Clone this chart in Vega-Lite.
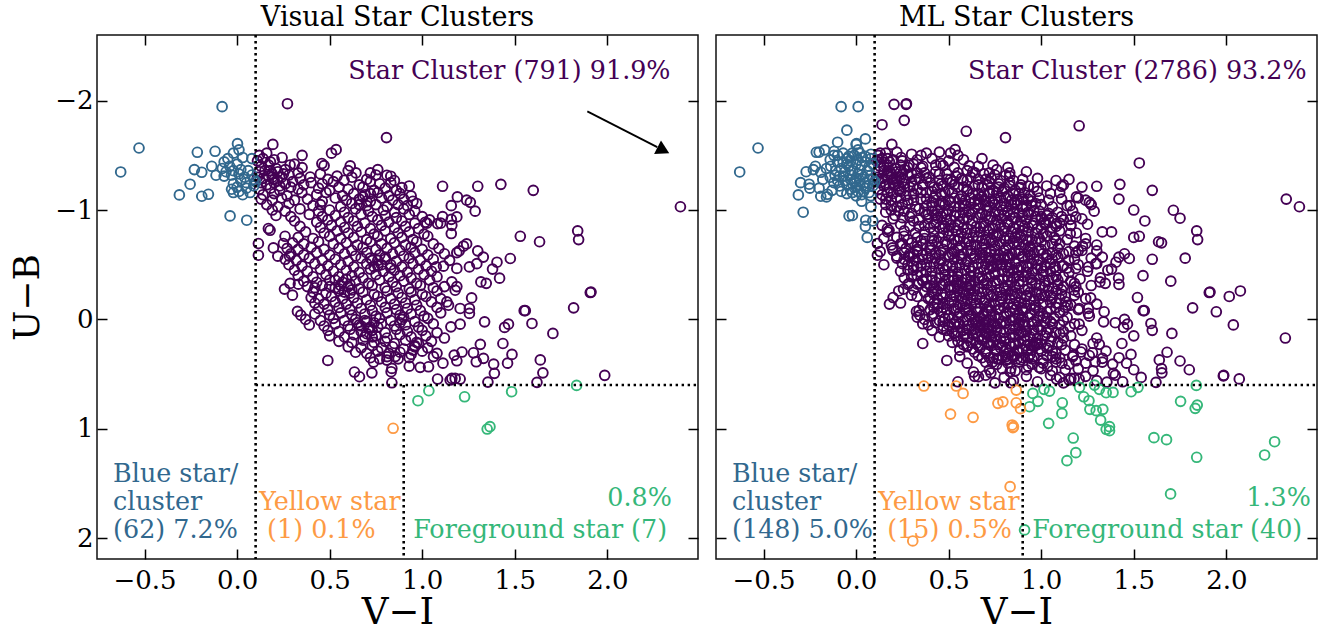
{"$schema":"https://vega.github.io/schema/vega-lite/v6.json","padding":{"left":8,"top":2,"right":0,"bottom":0},"background":"white","spacing":13,
"config":{"view":{"stroke":"#111","strokeWidth":1.5},"font":"DejaVu Serif","title":{"font":"DejaVu Serif","fontSize":27,"fontWeight":"normal","color":"#000","offset":2},"axis":{"grid":false,"domain":false,"labelFont":"DejaVu Serif","titleFont":"DejaVu Serif","titleFontWeight":"normal","labelColor":"#000","titleColor":"#000","tickColor":"#000","tickWidth":1.5}},
"datasets":{
"pv":[{"x":0.272,"y":-1.972},{"x":0.807,"y":-1.662},{"x":0.193,"y":-1.6},{"x":0.351,"y":-1.5},{"x":0.535,"y":-1.552},{"x":0.51,"y":-1.52},{"x":0.458,"y":-1.425},{"x":0.47,"y":-1.406},{"x":0.611,"y":-1.403},{"x":0.642,"y":-1.339},{"x":0.243,"y":-1.48},{"x":0.286,"y":-1.412},{"x":0.351,"y":-1.388},{"x":0.395,"y":-1.302},{"x":0.809,"y":-1.318},{"x":0.83,"y":-1.309},{"x":0.89,"y":-1.205},{"x":0.578,"y":-1.272},{"x":0.115,"y":-0.694},{"x":0.115,"y":-0.587},{"x":0.169,"y":-0.831},{"x":0.178,"y":-0.815},{"x":0.259,"y":-0.76},{"x":0.25,"y":-0.694},{"x":0.196,"y":-0.654},{"x":0.22,"y":-0.578},{"x":0.283,"y":-0.578},{"x":0.256,"y":-0.277},{"x":0.286,"y":-0.329},{"x":0.299,"y":-0.222},{"x":0.331,"y":-0.322},{"x":0.326,"y":-0.073},{"x":0.344,"y":-0.039},
{"x":1.11,"y":-1.217},{"x":1.3,"y":-1.217},{"x":1.425,"y":-1.235},{"x":1.6,"y":-1.18},{"x":1.19,"y":-1.12},{"x":1.24,"y":-1.09},{"x":1.26,"y":-1.07},{"x":1.157,"y":-1.04},{"x":1.286,"y":-0.99},{"x":1.11,"y":-0.94},{"x":1.187,"y":-0.937},{"x":1.157,"y":-0.915},{"x":1.16,"y":-0.86},{"x":1.157,"y":-0.785},{"x":1.016,"y":-0.888},{"x":1.025,"y":-0.88},{"x":1.083,"y":-0.876},{"x":1.1,"y":-0.88},{"x":1.53,"y":-0.76},{"x":1.634,"y":-0.71},{"x":1.84,"y":-0.81},{"x":1.845,"y":-0.73},{"x":2.395,"y":-1.03},{"x":1.24,"y":-0.69},{"x":1.223,"y":-0.67},{"x":1.2,"y":-0.627},{"x":1.187,"y":-0.61},{"x":1.3,"y":-0.627},{"x":1.33,"y":-0.57},{"x":1.295,"y":-0.51},{"x":1.255,"y":-0.48},{"x":1.476,"y":-0.557},{"x":1.404,"y":-0.523},{"x":1.38,"y":-0.46},{"x":1.418,"y":-0.377},{"x":1.187,"y":-0.466},{"x":1.148,"y":-0.54},{"x":1.115,"y":-0.487},{"x":1.076,"y":-0.48},{"x":1.317,"y":-0.343},{"x":1.346,"y":-0.33},{"x":1.16,"y":-0.343},{"x":1.187,"y":-0.3},{"x":1.178,"y":-0.267},{"x":1.908,"y":-0.246},{"x":1.912,"y":-0.25},{"x":1.818,"y":-0.106},{"x":1.551,"y":-0.08},{"x":1.557,"y":-0.08},{"x":1.593,"y":0.037},{"x":1.466,"y":0.043},{"x":1.445,"y":0.073},{"x":1.706,"y":0.128},{"x":1.267,"y":-0.197},{"x":1.255,"y":-0.1},{"x":1.255,"y":-0.055},{"x":1.205,"y":-0.1},{"x":1.142,"y":-0.13},{"x":1.133,"y":-0.16},{"x":1.337,"y":0.022},{"x":1.205,"y":0.043},{"x":1.155,"y":0.068},{"x":1.436,"y":0.22},{"x":1.314,"y":0.228},{"x":1.485,"y":0.32},{"x":1.638,"y":0.37},{"x":1.652,"y":0.488},{"x":1.986,"y":0.511},{"x":1.62,"y":0.575},{"x":1.461,"y":0.4},{"x":1.386,"y":0.408},{"x":1.39,"y":0.493},{"x":1.355,"y":0.573},{"x":1.331,"y":0.356},{"x":1.292,"y":0.387},{"x":1.277,"y":0.305},{"x":1.215,"y":0.298},{"x":1.173,"y":0.326},{"x":1.187,"y":0.378},{"x":1.083,"y":0.545},{"x":1.151,"y":0.554},{"x":1.16,"y":0.539},{"x":1.178,"y":0.539},{"x":1.205,"y":0.545},{"x":0.836,"y":0.579},{"x":0.49,"y":0.375},{"x":0.634,"y":0.481},{"x":0.661,"y":0.524},{"x":0.728,"y":0.488},{"x":0.737,"y":0.39},{"x":0.836,"y":0.448},{"x":0.832,"y":0.478},{"x":0.809,"y":0.372},{"x":0.854,"y":0.34},{"x":0.93,"y":0.427},{"x":0.989,"y":0.438},{"x":1.034,"y":0.433},{"x":1.112,"y":0.4},{"x":1.061,"y":0.34},
{"x":0.12,"y":-1.5},{"x":0.16,"y":-1.52},{"x":0.11,"y":-1.45},{"x":0.14,"y":-1.47},{"x":0.18,"y":-1.44},{"x":0.2,"y":-1.46},{"x":0.13,"y":-1.4},{"x":0.17,"y":-1.41},{"x":0.21,"y":-1.38},{"x":0.31,"y":-1.42},{"x":0.12,"y":-1.35},{"x":0.15,"y":-1.36},{"x":0.19,"y":-1.33},{"x":0.22,"y":-1.35},{"x":0.26,"y":-1.37},{"x":0.33,"y":-1.34},{"x":0.45,"y":-1.33},{"x":0.6,"y":-1.36},{"x":0.72,"y":-1.34},{"x":0.76,"y":-1.37},{"x":0.11,"y":-1.3},{"x":0.14,"y":-1.29},{"x":0.17,"y":-1.31},{"x":0.2,"y":-1.28},{"x":0.24,"y":-1.3},{"x":0.28,"y":-1.32},{"x":0.34,"y":-1.29},{"x":0.49,"y":-1.28},{"x":0.54,"y":-1.31},{"x":0.62,"y":-1.3},{"x":0.7,"y":-1.28},{"x":0.75,"y":-1.32},{"x":0.85,"y":-1.27},{"x":0.13,"y":-1.25},{"x":0.16,"y":-1.23},{"x":0.2,"y":-1.25},{"x":0.26,"y":-1.24},{"x":0.3,"y":-1.26},{"x":0.36,"y":-1.23},{"x":0.4,"y":-1.25},{"x":0.46,"y":-1.24},{"x":0.52,"y":-1.26},{"x":0.66,"y":-1.23},{"x":0.72,"y":-1.26},{"x":0.77,"y":-1.24},{"x":0.83,"y":-1.25},{"x":0.93,"y":-1.22},{"x":0.12,"y":-1.19},{"x":0.18,"y":-1.2},{"x":0.23,"y":-1.18},{"x":0.29,"y":-1.21},{"x":0.33,"y":-1.19},{"x":0.44,"y":-1.2},{"x":0.5,"y":-1.18},{"x":0.55,"y":-1.21},{"x":0.6,"y":-1.19},{"x":0.68,"y":-1.21},{"x":0.74,"y":-1.18},{"x":0.8,"y":-1.2},{"x":0.86,"y":-1.18},{"x":0.14,"y":-1.14},{"x":0.2,"y":-1.15},{"x":0.27,"y":-1.13},{"x":0.35,"y":-1.16},{"x":0.43,"y":-1.14},{"x":0.48,"y":-1.16},{"x":0.57,"y":-1.13},{"x":0.63,"y":-1.15},{"x":0.69,"y":-1.14},{"x":0.76,"y":-1.16},{"x":0.82,"y":-1.13},{"x":0.88,"y":-1.15},{"x":0.94,"y":-1.13},{"x":0.13,"y":-1.1},{"x":0.19,"y":-1.09},{"x":0.24,"y":-1.11},{"x":0.31,"y":-1.09},{"x":0.38,"y":-1.1},{"x":0.46,"y":-1.08},{"x":0.53,"y":-1.11},{"x":0.59,"y":-1.09},{"x":0.66,"y":-1.1},{"x":0.72,"y":-1.08},{"x":0.78,"y":-1.11},{"x":0.84,"y":-1.09},{"x":0.9,"y":-1.1},{"x":0.95,"y":-1.08},{"x":0.16,"y":-1.05},{"x":0.22,"y":-1.03},{"x":0.28,"y":-1.06},{"x":0.41,"y":-1.04},{"x":0.45,"y":-1.05},{"x":0.56,"y":-1.03},{"x":0.62,"y":-1.06},{"x":0.7,"y":-1.04},{"x":0.75,"y":-1.05},{"x":0.81,"y":-1.03},{"x":0.87,"y":-1.05},{"x":0.92,"y":-1.04},{"x":0.97,"y":-1.06},{"x":0.19,"y":-1},{"x":0.26,"y":-0.99},{"x":0.34,"y":-1.01},{"x":0.44,"y":-0.99},{"x":0.5,"y":-1},{"x":0.58,"y":-0.98},{"x":0.64,"y":-1.01},{"x":0.71,"y":-0.99},{"x":0.79,"y":-1},{"x":0.85,"y":-0.98},{"x":0.9,"y":-1.01},{"x":0.96,"y":-0.99},{"x":0.21,"y":-0.95},{"x":0.29,"y":-0.94},{"x":0.39,"y":-0.96},{"x":0.46,"y":-0.94},{"x":0.53,"y":-0.95},{"x":0.6,"y":-0.93},{"x":0.67,"y":-0.96},{"x":0.73,"y":-0.94},{"x":0.8,"y":-0.95},{"x":0.86,"y":-0.93},{"x":0.93,"y":-0.96},{"x":1,"y":-0.94},{"x":0.31,"y":-0.9},{"x":0.43,"y":-0.89},{"x":0.49,"y":-0.91},{"x":0.56,"y":-0.89},{"x":0.63,"y":-0.9},{"x":0.69,"y":-0.88},{"x":0.76,"y":-0.91},{"x":0.82,"y":-0.89},{"x":0.89,"y":-0.9},{"x":0.96,"y":-0.88},{"x":1.04,"y":-0.91},{"x":0.34,"y":-0.85},{"x":0.45,"y":-0.84},{"x":0.51,"y":-0.86},{"x":0.58,"y":-0.84},{"x":0.65,"y":-0.85},{"x":0.72,"y":-0.83},{"x":0.78,"y":-0.86},{"x":0.85,"y":-0.84},{"x":0.91,"y":-0.85},{"x":0.98,"y":-0.83},{"x":0.37,"y":-0.8},{"x":0.47,"y":-0.79},{"x":0.54,"y":-0.81},{"x":0.6,"y":-0.79},{"x":0.67,"y":-0.8},{"x":0.74,"y":-0.78},{"x":0.8,"y":-0.81},{"x":0.87,"y":-0.79},{"x":0.93,"y":-0.8},{"x":1.01,"y":-0.78},{"x":0.33,"y":-0.75},{"x":0.41,"y":-0.74},{"x":0.5,"y":-0.76},{"x":0.56,"y":-0.74},{"x":0.63,"y":-0.75},{"x":0.7,"y":-0.73},{"x":0.76,"y":-0.76},{"x":0.83,"y":-0.74},{"x":0.89,"y":-0.75},{"x":0.95,"y":-0.73},{"x":1.03,"y":-0.76},{"x":0.3,"y":-0.7},{"x":0.36,"y":-0.69},{"x":0.44,"y":-0.71},{"x":0.52,"y":-0.69},{"x":0.59,"y":-0.7},{"x":0.65,"y":-0.68},{"x":0.72,"y":-0.71},{"x":0.78,"y":-0.69},{"x":0.85,"y":-0.7},{"x":0.91,"y":-0.68},{"x":0.97,"y":-0.71},{"x":1.06,"y":-0.69},{"x":0.27,"y":-0.65},{"x":0.33,"y":-0.64},{"x":0.4,"y":-0.66},{"x":0.47,"y":-0.64},{"x":0.55,"y":-0.65},{"x":0.62,"y":-0.63},{"x":0.68,"y":-0.66},{"x":0.75,"y":-0.64},{"x":0.81,"y":-0.65},{"x":0.88,"y":-0.63},{"x":0.94,"y":-0.66},{"x":1,"y":-0.64},{"x":1.09,"y":-0.65},{"x":0.29,"y":-0.6},{"x":0.36,"y":-0.59},{"x":0.43,"y":-0.61},{"x":0.5,"y":-0.59},{"x":0.58,"y":-0.6},{"x":0.64,"y":-0.58},{"x":0.7,"y":-0.61},{"x":0.77,"y":-0.59},{"x":0.84,"y":-0.6},{"x":0.9,"y":-0.58},{"x":0.96,"y":-0.61},{"x":1.03,"y":-0.59},{"x":1.12,"y":-0.6},{"x":0.26,"y":-0.55},{"x":0.32,"y":-0.54},{"x":0.39,"y":-0.56},{"x":0.46,"y":-0.54},{"x":0.53,"y":-0.55},{"x":0.6,"y":-0.53},{"x":0.67,"y":-0.56},{"x":0.73,"y":-0.54},{"x":0.8,"y":-0.55},{"x":0.86,"y":-0.53},{"x":0.93,"y":-0.56},{"x":0.99,"y":-0.54},{"x":1.06,"y":-0.55},{"x":0.28,"y":-0.5},{"x":0.35,"y":-0.49},{"x":0.42,"y":-0.51},{"x":0.49,"y":-0.49},{"x":0.56,"y":-0.5},{"x":0.63,"y":-0.48},{"x":0.7,"y":-0.51},{"x":0.76,"y":-0.49},{"x":0.83,"y":-0.5},{"x":0.89,"y":-0.48},{"x":0.95,"y":-0.51},{"x":1.02,"y":-0.49},{"x":0.31,"y":-0.45},{"x":0.38,"y":-0.44},{"x":0.45,"y":-0.46},{"x":0.52,"y":-0.44},{"x":0.59,"y":-0.45},{"x":0.66,"y":-0.43},{"x":0.72,"y":-0.46},{"x":0.79,"y":-0.44},{"x":0.85,"y":-0.45},{"x":0.92,"y":-0.43},{"x":0.98,"y":-0.46},{"x":1.05,"y":-0.44},{"x":0.33,"y":-0.4},{"x":0.41,"y":-0.39},{"x":0.48,"y":-0.41},{"x":0.55,"y":-0.39},{"x":0.62,"y":-0.4},{"x":0.68,"y":-0.38},{"x":0.75,"y":-0.41},{"x":0.82,"y":-0.39},{"x":0.88,"y":-0.4},{"x":0.94,"y":-0.38},{"x":1.01,"y":-0.41},{"x":1.08,"y":-0.39},{"x":0.36,"y":-0.35},{"x":0.43,"y":-0.34},{"x":0.5,"y":-0.36},{"x":0.57,"y":-0.34},{"x":0.64,"y":-0.35},{"x":0.71,"y":-0.33},{"x":0.77,"y":-0.36},{"x":0.84,"y":-0.34},{"x":0.9,"y":-0.35},{"x":0.97,"y":-0.33},{"x":1.04,"y":-0.36},{"x":0.38,"y":-0.3},{"x":0.42,"y":-0.29},{"x":0.46,"y":-0.31},{"x":0.53,"y":-0.29},{"x":0.6,"y":-0.3},{"x":0.66,"y":-0.28},{"x":0.73,"y":-0.31},{"x":0.8,"y":-0.29},{"x":0.86,"y":-0.3},{"x":0.93,"y":-0.28},{"x":0.99,"y":-0.31},{"x":1.06,"y":-0.29},{"x":1.12,"y":-0.3},{"x":0.41,"y":-0.25},{"x":0.48,"y":-0.24},{"x":0.55,"y":-0.26},{"x":0.61,"y":-0.24},{"x":0.68,"y":-0.25},{"x":0.74,"y":-0.23},{"x":0.81,"y":-0.26},{"x":0.87,"y":-0.24},{"x":0.94,"y":-0.25},{"x":1,"y":-0.23},{"x":1.08,"y":-0.26},{"x":0.4,"y":-0.2},{"x":0.44,"y":-0.19},{"x":0.51,"y":-0.21},{"x":0.57,"y":-0.19},{"x":0.63,"y":-0.2},{"x":0.7,"y":-0.18},{"x":0.76,"y":-0.21},{"x":0.83,"y":-0.19},{"x":0.89,"y":-0.2},{"x":0.96,"y":-0.18},{"x":1.02,"y":-0.21},{"x":1.1,"y":-0.19},{"x":0.42,"y":-0.15},{"x":0.47,"y":-0.14},{"x":0.53,"y":-0.16},{"x":0.59,"y":-0.14},{"x":0.65,"y":-0.15},{"x":0.72,"y":-0.13},{"x":0.78,"y":-0.16},{"x":0.85,"y":-0.14},{"x":0.91,"y":-0.15},{"x":0.97,"y":-0.13},{"x":1.05,"y":-0.16},{"x":0.44,"y":-0.1},{"x":0.49,"y":-0.09},{"x":0.55,"y":-0.11},{"x":0.61,"y":-0.09},{"x":0.67,"y":-0.1},{"x":0.73,"y":-0.08},{"x":0.8,"y":-0.11},{"x":0.86,"y":-0.09},{"x":0.92,"y":-0.1},{"x":0.99,"y":-0.08},{"x":1.08,"y":-0.11},{"x":0.42,"y":-0.05},{"x":0.5,"y":-0.04},{"x":0.56,"y":-0.06},{"x":0.62,"y":-0.04},{"x":0.69,"y":-0.05},{"x":0.75,"y":-0.03},{"x":0.81,"y":-0.06},{"x":0.88,"y":-0.04},{"x":0.94,"y":-0.05},{"x":1.01,"y":-0.03},{"x":1.1,"y":-0.06},{"x":0.37,"y":0},{"x":0.45,"y":0.01},{"x":0.52,"y":-0.01},{"x":0.58,"y":0.01},{"x":0.64,"y":0},{"x":0.7,"y":0.02},{"x":0.77,"y":-0.01},{"x":0.83,"y":0.01},{"x":0.89,"y":0},{"x":0.96,"y":0.02},{"x":1.03,"y":-0.01},{"x":0.39,"y":0.05},{"x":0.47,"y":0.06},{"x":0.53,"y":0.04},{"x":0.6,"y":0.06},{"x":0.66,"y":0.05},{"x":0.72,"y":0.07},{"x":0.78,"y":0.04},{"x":0.85,"y":0.06},{"x":0.91,"y":0.05},{"x":0.98,"y":0.07},{"x":1.06,"y":0.04},{"x":0.49,"y":0.1},{"x":0.55,"y":0.11},{"x":0.61,"y":0.09},{"x":0.67,"y":0.11},{"x":0.73,"y":0.1},{"x":0.8,"y":0.12},{"x":0.86,"y":0.09},{"x":0.92,"y":0.11},{"x":1,"y":0.1},{"x":1.08,"y":0.12},{"x":0.5,"y":0.15},{"x":0.58,"y":0.16},{"x":0.63,"y":0.14},{"x":0.69,"y":0.16},{"x":0.75,"y":0.15},{"x":0.81,"y":0.17},{"x":0.88,"y":0.14},{"x":0.94,"y":0.16},{"x":1.02,"y":0.15},{"x":1.12,"y":0.17},{"x":0.55,"y":0.2},{"x":0.62,"y":0.21},{"x":0.68,"y":0.19},{"x":0.74,"y":0.21},{"x":0.8,"y":0.2},{"x":0.85,"y":0.22},{"x":0.91,"y":0.19},{"x":0.97,"y":0.21},{"x":1.05,"y":0.2},{"x":0.6,"y":0.25},{"x":0.67,"y":0.26},{"x":0.73,"y":0.24},{"x":0.78,"y":0.26},{"x":0.84,"y":0.25},{"x":0.9,"y":0.27},{"x":0.96,"y":0.24},{"x":1.03,"y":0.26},{"x":0.64,"y":0.3},{"x":0.7,"y":0.31},{"x":0.76,"y":0.29},{"x":0.82,"y":0.31},{"x":0.88,"y":0.3},{"x":0.94,"y":0.32},{"x":1,"y":0.29},{"x":1.08,"y":0.31},{"x":0.72,"y":0.35},{"x":0.77,"y":0.36},{"x":0.81,"y":0.34},{"x":0.87,"y":0.36},{"x":0.93,"y":0.35},
{"x":0.53,"y":-0.36},{"x":0.56,"y":-0.31},{"x":0.59,"y":-0.37},{"x":0.61,"y":-0.32},{"x":0.55,"y":-0.28},{"x":0.58,"y":-0.25},{"x":0.62,"y":-0.27},{"x":0.5,"y":-0.3},{"x":0.65,"y":0.03},{"x":0.67,"y":0.06},{"x":0.69,"y":0.01},{"x":0.71,"y":0.08},{"x":0.74,"y":0.03},{"x":0.76,"y":0.07},{"x":0.7,"y":0.13},{"x":0.73,"y":0.16},{"x":0.76,"y":-0.54},{"x":0.78,"y":-0.5},{"x":0.74,"y":-0.48},{"x":0.8,"y":-0.57},{"x":0.72,"y":-0.56},{"x":0.83,"y":-0.47},{"x":0.68,"y":-1.12},{"x":0.7,"y":-1.08},{"x":0.66,"y":-1.05},{"x":0.72,"y":-1.15},{"x":0.19,"y":-1.3},{"x":0.22,"y":-1.27},{"x":0.25,"y":-1.33},{"x":0.18,"y":-1.36},{"x":0.23,"y":-1.22},{"x":0.96,"y":0.25},{"x":0.95,"y":0.28},{"x":0.98,"y":0.22},{"x":0.9,"y":-0.02},{"x":0.88,"y":0.03}],
"pm":[{"x":0.205,"y":-1.966},{"x":0.27,"y":-1.966},{"x":0.14,"y":-1.78},{"x":0.26,"y":-1.82},{"x":0.595,"y":-1.72},{"x":1.205,"y":-1.77},{"x":1.53,"y":-1.43},{"x":2.324,"y":-1.1},{"x":2.319,"y":0.17},{"x":1.778,"y":-0.56},{"x":1.714,"y":-0.998},{"x":1.75,"y":-0.925},{"x":1.984,"y":0.517},{"x":2.07,"y":0.544},{"x":2.076,"y":-0.26},{"x":2.016,"y":-0.21},{"x":1.946,"y":-0.07},{"x":2.038,"y":0.05},{"x":1.56,"y":-0.9},{"x":1.5,"y":-1},{"x":1.42,"y":-1.1},{"x":1.6,"y":-0.55},{"x":1.55,"y":-0.4},{"x":1.65,"y":-0.7},{"x":1.7,"y":-0.35},{"x":1.52,"y":-0.2},{"x":1.6,"y":0.1},{"x":1.68,"y":0.3},{"x":1.75,"y":0.38},{"x":1.8,"y":0.46},{"x":1.65,"y":0.45},{"x":1.5,"y":0.15},{"x":1.45,"y":0},{"x":1.38,"y":-0.8},{"x":1.45,"y":-0.6},{"x":1.5,"y":-0.75},
{"x":0.13,"y":-1.52},{"x":0.22,"y":-1.53},{"x":0.3,"y":-1.51},{"x":0.38,"y":-1.52},{"x":0.45,"y":-1.53},{"x":0.55,"y":-1.5},{"x":0.12,"y":-1.46},{"x":0.17,"y":-1.47},{"x":0.25,"y":-1.45},{"x":0.33,"y":-1.46},{"x":0.41,"y":-1.47},{"x":0.5,"y":-1.45},{"x":0.58,"y":-1.46},{"x":0.68,"y":-1.47},{"x":0.15,"y":-1.4},{"x":0.24,"y":-1.41},{"x":0.28,"y":-1.39},{"x":0.36,"y":-1.4},{"x":0.43,"y":-1.41},{"x":0.53,"y":-1.39},{"x":0.66,"y":-1.4},{"x":0.74,"y":-1.41},{"x":0.82,"y":-1.39},{"x":0.17,"y":-1.34},{"x":0.24,"y":-1.35},{"x":0.3,"y":-1.33},{"x":0.37,"y":-1.34},{"x":0.43,"y":-1.35},{"x":0.49,"y":-1.33},{"x":0.55,"y":-1.34},{"x":0.63,"y":-1.35},{"x":0.69,"y":-1.33},{"x":0.83,"y":-1.34},{"x":0.92,"y":-1.35},{"x":0.12,"y":-1.28},{"x":0.22,"y":-1.29},{"x":0.26,"y":-1.27},{"x":0.32,"y":-1.28},{"x":0.38,"y":-1.29},{"x":0.45,"y":-1.27},{"x":0.51,"y":-1.28},{"x":0.57,"y":-1.29},{"x":0.6,"y":-1.27},{"x":0.66,"y":-1.28},{"x":0.73,"y":-1.29},{"x":0.78,"y":-1.27},{"x":0.9,"y":-1.28},{"x":0.98,"y":-1.29},{"x":1.08,"y":-1.27},{"x":1.15,"y":-1.28},{"x":0.15,"y":-1.22},{"x":0.21,"y":-1.23},{"x":0.26,"y":-1.21},{"x":0.31,"y":-1.22},{"x":0.36,"y":-1.23},{"x":0.42,"y":-1.21},{"x":0.47,"y":-1.22},{"x":0.53,"y":-1.23},{"x":0.58,"y":-1.21},{"x":0.64,"y":-1.22},{"x":0.71,"y":-1.23},{"x":0.77,"y":-1.21},{"x":0.83,"y":-1.22},{"x":0.89,"y":-1.23},{"x":0.96,"y":-1.21},{"x":1.03,"y":-1.22},{"x":1.12,"y":-1.23},{"x":1.22,"y":-1.21},{"x":0.17,"y":-1.16},{"x":0.24,"y":-1.17},{"x":0.31,"y":-1.15},{"x":0.38,"y":-1.16},{"x":0.41,"y":-1.17},{"x":0.46,"y":-1.15},{"x":0.52,"y":-1.16},{"x":0.6,"y":-1.17},{"x":0.66,"y":-1.15},{"x":0.72,"y":-1.16},{"x":0.79,"y":-1.17},{"x":0.85,"y":-1.15},{"x":0.91,"y":-1.16},{"x":0.98,"y":-1.17},{"x":1.05,"y":-1.15},{"x":1.1,"y":-1.16},{"x":0.16,"y":-1.1},{"x":0.22,"y":-1.11},{"x":0.28,"y":-1.09},{"x":0.35,"y":-1.1},{"x":0.42,"y":-1.11},{"x":0.5,"y":-1.09},{"x":0.56,"y":-1.1},{"x":0.62,"y":-1.11},{"x":0.69,"y":-1.09},{"x":0.75,"y":-1.1},{"x":0.81,"y":-1.11},{"x":0.87,"y":-1.09},{"x":0.93,"y":-1.1},{"x":0.99,"y":-1.11},{"x":1.04,"y":-1.09},{"x":1.11,"y":-1.1},{"x":1.2,"y":-1.11},{"x":0.19,"y":-1.04},{"x":0.25,"y":-1.05},{"x":0.32,"y":-1.03},{"x":0.38,"y":-1.04},{"x":0.48,"y":-1.05},{"x":0.53,"y":-1.03},{"x":0.59,"y":-1.04},{"x":0.66,"y":-1.05},{"x":0.72,"y":-1.03},{"x":0.78,"y":-1.04},{"x":0.84,"y":-1.05},{"x":0.9,"y":-1.03},{"x":0.95,"y":-1.04},{"x":1,"y":-1.05},{"x":1.06,"y":-1.03},{"x":1.14,"y":-1.04},{"x":1.27,"y":-1.05},{"x":0.16,"y":-0.98},{"x":0.23,"y":-0.99},{"x":0.3,"y":-0.97},{"x":0.37,"y":-0.98},{"x":0.41,"y":-0.99},{"x":0.47,"y":-0.97},{"x":0.54,"y":-0.98},{"x":0.61,"y":-0.99},{"x":0.68,"y":-0.97},{"x":0.75,"y":-0.98},{"x":0.82,"y":-0.99},{"x":0.88,"y":-0.97},{"x":0.93,"y":-0.98},{"x":0.99,"y":-0.99},{"x":1.04,"y":-0.97},{"x":1.09,"y":-0.98},{"x":1.17,"y":-0.99},{"x":0.2,"y":-0.92},{"x":0.25,"y":-0.93},{"x":0.34,"y":-0.91},{"x":0.39,"y":-0.92},{"x":0.44,"y":-0.93},{"x":0.51,"y":-0.91},{"x":0.58,"y":-0.92},{"x":0.66,"y":-0.93},{"x":0.72,"y":-0.91},{"x":0.79,"y":-0.92},{"x":0.85,"y":-0.93},{"x":0.92,"y":-0.91},{"x":1,"y":-0.92},{"x":1.06,"y":-0.93},{"x":1.12,"y":-0.91},{"x":1.22,"y":-0.92},{"x":0.14,"y":-0.86},{"x":0.24,"y":-0.87},{"x":0.29,"y":-0.85},{"x":0.37,"y":-0.86},{"x":0.42,"y":-0.87},{"x":0.48,"y":-0.85},{"x":0.55,"y":-0.86},{"x":0.62,"y":-0.87},{"x":0.69,"y":-0.85},{"x":0.75,"y":-0.86},{"x":0.82,"y":-0.87},{"x":0.88,"y":-0.85},{"x":0.95,"y":-0.86},{"x":1.02,"y":-0.87},{"x":1.08,"y":-0.85},{"x":1.16,"y":-0.86},{"x":1.25,"y":-0.87},{"x":0.17,"y":-0.8},{"x":0.26,"y":-0.81},{"x":0.32,"y":-0.79},{"x":0.42,"y":-0.8},{"x":0.5,"y":-0.81},{"x":0.57,"y":-0.79},{"x":0.64,"y":-0.8},{"x":0.71,"y":-0.81},{"x":0.77,"y":-0.79},{"x":0.84,"y":-0.8},{"x":0.9,"y":-0.81},{"x":0.97,"y":-0.79},{"x":1.05,"y":-0.8},{"x":1.1,"y":-0.81},{"x":1.19,"y":-0.79},{"x":1.33,"y":-0.8},{"x":0.15,"y":-0.74},{"x":0.22,"y":-0.75},{"x":0.28,"y":-0.73},{"x":0.37,"y":-0.74},{"x":0.45,"y":-0.75},{"x":0.53,"y":-0.73},{"x":0.6,"y":-0.74},{"x":0.66,"y":-0.75},{"x":0.73,"y":-0.73},{"x":0.8,"y":-0.74},{"x":0.86,"y":-0.75},{"x":0.92,"y":-0.73},{"x":0.99,"y":-0.74},{"x":1.07,"y":-0.75},{"x":1.14,"y":-0.73},{"x":1.24,"y":-0.74},{"x":0.19,"y":-0.68},{"x":0.24,"y":-0.69},{"x":0.33,"y":-0.67},{"x":0.41,"y":-0.68},{"x":0.49,"y":-0.69},{"x":0.56,"y":-0.67},{"x":0.62,"y":-0.68},{"x":0.69,"y":-0.69},{"x":0.75,"y":-0.67},{"x":0.82,"y":-0.68},{"x":0.88,"y":-0.69},{"x":0.94,"y":-0.67},{"x":1.02,"y":-0.68},{"x":1.1,"y":-0.69},{"x":1.18,"y":-0.67},{"x":1.3,"y":-0.68},{"x":0.13,"y":-0.62},{"x":0.2,"y":-0.63},{"x":0.26,"y":-0.61},{"x":0.33,"y":-0.62},{"x":0.4,"y":-0.63},{"x":0.46,"y":-0.61},{"x":0.53,"y":-0.62},{"x":0.6,"y":-0.63},{"x":0.67,"y":-0.61},{"x":0.73,"y":-0.62},{"x":0.8,"y":-0.63},{"x":0.86,"y":-0.61},{"x":0.93,"y":-0.62},{"x":0.99,"y":-0.63},{"x":1.06,"y":-0.61},{"x":1.15,"y":-0.62},{"x":1.22,"y":-0.63},{"x":0.22,"y":-0.56},{"x":0.29,"y":-0.57},{"x":0.36,"y":-0.55},{"x":0.43,"y":-0.56},{"x":0.5,"y":-0.57},{"x":0.57,"y":-0.55},{"x":0.64,"y":-0.56},{"x":0.7,"y":-0.57},{"x":0.77,"y":-0.55},{"x":0.83,"y":-0.56},{"x":0.9,"y":-0.57},{"x":0.96,"y":-0.55},{"x":1.03,"y":-0.56},{"x":1.09,"y":-0.57},{"x":1.18,"y":-0.55},{"x":1.27,"y":-0.56},{"x":1.42,"y":-0.57},{"x":0.15,"y":-0.5},{"x":0.25,"y":-0.51},{"x":0.31,"y":-0.49},{"x":0.38,"y":-0.5},{"x":0.45,"y":-0.51},{"x":0.52,"y":-0.49},{"x":0.59,"y":-0.5},{"x":0.66,"y":-0.51},{"x":0.73,"y":-0.49},{"x":0.79,"y":-0.5},{"x":0.86,"y":-0.51},{"x":0.92,"y":-0.49},{"x":0.98,"y":-0.5},{"x":1.05,"y":-0.51},{"x":1.12,"y":-0.49},{"x":1.2,"y":-0.5},{"x":1.3,"y":-0.51},{"x":0.24,"y":-0.44},{"x":0.28,"y":-0.45},{"x":0.35,"y":-0.43},{"x":0.41,"y":-0.44},{"x":0.48,"y":-0.45},{"x":0.55,"y":-0.43},{"x":0.62,"y":-0.44},{"x":0.69,"y":-0.45},{"x":0.75,"y":-0.43},{"x":0.82,"y":-0.44},{"x":0.88,"y":-0.45},{"x":0.95,"y":-0.43},{"x":1.01,"y":-0.44},{"x":1.08,"y":-0.45},{"x":1.15,"y":-0.43},{"x":1.25,"y":-0.44},{"x":1.36,"y":-0.45},{"x":0.26,"y":-0.38},{"x":0.3,"y":-0.39},{"x":0.38,"y":-0.37},{"x":0.45,"y":-0.38},{"x":0.52,"y":-0.39},{"x":0.6,"y":-0.37},{"x":0.66,"y":-0.38},{"x":0.72,"y":-0.39},{"x":0.79,"y":-0.37},{"x":0.85,"y":-0.38},{"x":0.91,"y":-0.39},{"x":0.99,"y":-0.37},{"x":1.06,"y":-0.38},{"x":1.12,"y":-0.39},{"x":1.21,"y":-0.37},{"x":1.32,"y":-0.38},{"x":0.28,"y":-0.32},{"x":0.34,"y":-0.33},{"x":0.4,"y":-0.31},{"x":0.47,"y":-0.32},{"x":0.54,"y":-0.33},{"x":0.62,"y":-0.31},{"x":0.69,"y":-0.32},{"x":0.76,"y":-0.33},{"x":0.82,"y":-0.31},{"x":0.88,"y":-0.32},{"x":0.95,"y":-0.33},{"x":1.02,"y":-0.31},{"x":1.09,"y":-0.32},{"x":1.18,"y":-0.33},{"x":1.27,"y":-0.31},{"x":1.42,"y":-0.32},{"x":0.23,"y":-0.26},{"x":0.31,"y":-0.27},{"x":0.37,"y":-0.25},{"x":0.44,"y":-0.26},{"x":0.51,"y":-0.27},{"x":0.58,"y":-0.25},{"x":0.64,"y":-0.26},{"x":0.71,"y":-0.27},{"x":0.78,"y":-0.25},{"x":0.84,"y":-0.26},{"x":0.91,"y":-0.27},{"x":0.97,"y":-0.25},{"x":1.04,"y":-0.26},{"x":1.11,"y":-0.27},{"x":1.2,"y":-0.25},{"x":0.2,"y":-0.2},{"x":0.33,"y":-0.21},{"x":0.39,"y":-0.19},{"x":0.47,"y":-0.2},{"x":0.54,"y":-0.21},{"x":0.6,"y":-0.19},{"x":0.67,"y":-0.2},{"x":0.73,"y":-0.21},{"x":0.79,"y":-0.19},{"x":0.86,"y":-0.2},{"x":0.92,"y":-0.21},{"x":0.99,"y":-0.19},{"x":1.06,"y":-0.2},{"x":1.13,"y":-0.21},{"x":1.24,"y":-0.19},{"x":0.18,"y":-0.14},{"x":0.24,"y":-0.15},{"x":0.36,"y":-0.13},{"x":0.44,"y":-0.14},{"x":0.5,"y":-0.15},{"x":0.56,"y":-0.13},{"x":0.62,"y":-0.14},{"x":0.69,"y":-0.15},{"x":0.75,"y":-0.13},{"x":0.82,"y":-0.14},{"x":0.88,"y":-0.15},{"x":0.94,"y":-0.13},{"x":1.01,"y":-0.14},{"x":1.08,"y":-0.15},{"x":1.16,"y":-0.13},{"x":1.3,"y":-0.14},{"x":0.34,"y":-0.08},{"x":0.4,"y":-0.09},{"x":0.46,"y":-0.07},{"x":0.53,"y":-0.08},{"x":0.59,"y":-0.09},{"x":0.65,"y":-0.07},{"x":0.71,"y":-0.08},{"x":0.77,"y":-0.09},{"x":0.83,"y":-0.07},{"x":0.9,"y":-0.08},{"x":0.96,"y":-0.09},{"x":1.03,"y":-0.07},{"x":1.12,"y":-0.08},{"x":1.2,"y":-0.09},{"x":1.34,"y":-0.07},{"x":0.33,"y":-0.02},{"x":0.41,"y":-0.03},{"x":0.48,"y":-0.01},{"x":0.55,"y":-0.02},{"x":0.61,"y":-0.03},{"x":0.67,"y":-0.01},{"x":0.73,"y":-0.02},{"x":0.8,"y":-0.03},{"x":0.86,"y":-0.01},{"x":0.93,"y":-0.02},{"x":0.99,"y":-0.03},{"x":1.07,"y":-0.01},{"x":1.14,"y":-0.02},{"x":1.26,"y":-0.03},{"x":0.36,"y":0.04},{"x":0.43,"y":0.03},{"x":0.5,"y":0.05},{"x":0.56,"y":0.04},{"x":0.63,"y":0.03},{"x":0.69,"y":0.05},{"x":0.75,"y":0.04},{"x":0.81,"y":0.03},{"x":0.88,"y":0.05},{"x":0.95,"y":0.04},{"x":1.02,"y":0.03},{"x":1.1,"y":0.05},{"x":1.18,"y":0.04},{"x":1.4,"y":0.03},{"x":0.41,"y":0.1},{"x":0.47,"y":0.09},{"x":0.52,"y":0.11},{"x":0.58,"y":0.1},{"x":0.64,"y":0.09},{"x":0.7,"y":0.11},{"x":0.76,"y":0.1},{"x":0.83,"y":0.09},{"x":0.89,"y":0.11},{"x":0.96,"y":0.1},{"x":1.04,"y":0.09},{"x":1.12,"y":0.11},{"x":1.22,"y":0.1},{"x":0.45,"y":0.16},{"x":0.54,"y":0.15},{"x":0.6,"y":0.17},{"x":0.66,"y":0.16},{"x":0.72,"y":0.15},{"x":0.78,"y":0.17},{"x":0.85,"y":0.16},{"x":0.91,"y":0.15},{"x":0.98,"y":0.17},{"x":1.06,"y":0.16},{"x":1.16,"y":0.15},{"x":1.3,"y":0.17},{"x":0.36,"y":0.22},{"x":0.52,"y":0.21},{"x":0.58,"y":0.23},{"x":0.65,"y":0.22},{"x":0.71,"y":0.21},{"x":0.77,"y":0.23},{"x":0.83,"y":0.22},{"x":0.88,"y":0.21},{"x":0.94,"y":0.23},{"x":1,"y":0.22},{"x":1.09,"y":0.21},{"x":1.18,"y":0.23},{"x":1.28,"y":0.22},{"x":0.56,"y":0.28},{"x":0.63,"y":0.27},{"x":0.7,"y":0.29},{"x":0.75,"y":0.28},{"x":0.81,"y":0.27},{"x":0.87,"y":0.29},{"x":0.93,"y":0.28},{"x":0.99,"y":0.27},{"x":1.06,"y":0.29},{"x":1.13,"y":0.28},{"x":1.22,"y":0.27},{"x":1.35,"y":0.29},{"x":0.56,"y":0.34},{"x":0.66,"y":0.33},{"x":0.74,"y":0.35},{"x":0.79,"y":0.34},{"x":0.84,"y":0.33},{"x":0.9,"y":0.35},{"x":0.96,"y":0.34},{"x":1.03,"y":0.33},{"x":1.1,"y":0.35},{"x":1.17,"y":0.34},{"x":1.26,"y":0.33},{"x":1.42,"y":0.35},{"x":0.6,"y":0.4},{"x":0.7,"y":0.39},{"x":0.76,"y":0.41},{"x":0.82,"y":0.4},{"x":0.88,"y":0.39},{"x":0.95,"y":0.41},{"x":1.01,"y":0.4},{"x":1.08,"y":0.39},{"x":1.15,"y":0.41},{"x":1.24,"y":0.4},{"x":1.33,"y":0.39},{"x":0.72,"y":0.46},{"x":0.79,"y":0.45},{"x":0.86,"y":0.47},{"x":0.92,"y":0.46},{"x":1,"y":0.45},{"x":1.06,"y":0.47},{"x":1.13,"y":0.46},{"x":1.2,"y":0.45},{"x":1.28,"y":0.47},{"x":1.5,"y":0.46},{"x":0.64,"y":0.52},{"x":0.7,"y":0.51},{"x":0.8,"y":0.53},{"x":0.92,"y":0.52},{"x":1.05,"y":0.51},{"x":1.1,"y":0.53},{"x":1.24,"y":0.52},{"x":1.4,"y":0.51},{"x":1.54,"y":0.53},{"x":0.55,"y":0.57},{"x":0.75,"y":0.58},{"x":0.85,"y":0.56},{"x":0.98,"y":0.57},{"x":1.12,"y":0.58},{"x":1.3,"y":0.56},{"x":1.44,"y":0.57},
{"x":0.41,"y":-1.07},{"x":0.47,"y":-1.06},{"x":0.51,"y":-1.07},{"x":0.58,"y":-1.06},{"x":0.64,"y":-1.08},{"x":0.74,"y":-1.07},{"x":0.8,"y":-1.06},{"x":0.86,"y":-1.07},{"x":0.38,"y":-0.96},{"x":0.43,"y":-0.95},{"x":0.49,"y":-0.96},{"x":0.56,"y":-0.95},{"x":0.62,"y":-0.96},{"x":0.7,"y":-0.95},{"x":0.77,"y":-0.96},{"x":0.83,"y":-0.95},{"x":0.9,"y":-0.95},{"x":0.97,"y":-0.94},{"x":1.03,"y":-0.95},{"x":0.4,"y":-0.84},{"x":0.47,"y":-0.83},{"x":0.53,"y":-0.84},{"x":0.6,"y":-0.83},{"x":0.67,"y":-0.84},{"x":0.74,"y":-0.83},{"x":0.8,"y":-0.84},{"x":0.86,"y":-0.83},{"x":0.93,"y":-0.84},{"x":1,"y":-0.83},{"x":1.06,"y":-0.84},{"x":0.35,"y":-0.72},{"x":0.42,"y":-0.72},{"x":0.48,"y":-0.71},{"x":0.55,"y":-0.72},{"x":0.61,"y":-0.71},{"x":0.68,"y":-0.72},{"x":0.74,"y":-0.71},{"x":0.81,"y":-0.72},{"x":0.87,"y":-0.71},{"x":0.93,"y":-0.72},{"x":1,"y":-0.71},{"x":1.08,"y":-0.72},{"x":0.31,"y":-0.6},{"x":0.38,"y":-0.6},{"x":0.45,"y":-0.59},{"x":0.52,"y":-0.6},{"x":0.56,"y":-0.59},{"x":0.62,"y":-0.6},{"x":0.68,"y":-0.59},{"x":0.75,"y":-0.6},{"x":0.82,"y":-0.59},{"x":0.88,"y":-0.6},{"x":0.94,"y":-0.59},{"x":1.01,"y":-0.6},{"x":1.08,"y":-0.59},{"x":0.33,"y":-0.48},{"x":0.4,"y":-0.48},{"x":0.47,"y":-0.47},{"x":0.54,"y":-0.48},{"x":0.61,"y":-0.47},{"x":0.68,"y":-0.48},{"x":0.81,"y":-0.48},{"x":0.87,"y":-0.47},{"x":0.93,"y":-0.48},{"x":1,"y":-0.47},{"x":1.07,"y":-0.48},{"x":1.14,"y":-0.47},{"x":0.36,"y":-0.36},{"x":0.41,"y":-0.36},{"x":0.48,"y":-0.35},{"x":0.55,"y":-0.36},{"x":0.62,"y":-0.35},{"x":0.69,"y":-0.36},{"x":0.75,"y":-0.35},{"x":0.82,"y":-0.36},{"x":0.88,"y":-0.35},{"x":0.95,"y":-0.36},{"x":1.02,"y":-0.35},{"x":1.09,"y":-0.36},{"x":1.16,"y":-0.35},{"x":0.42,"y":-0.23},{"x":0.46,"y":-0.23},{"x":0.53,"y":-0.22},{"x":0.59,"y":-0.23},{"x":0.65,"y":-0.22},{"x":0.72,"y":-0.23},{"x":0.79,"y":-0.22},{"x":0.85,"y":-0.23},{"x":0.92,"y":-0.22},{"x":0.98,"y":-0.23},{"x":1.05,"y":-0.22},{"x":1.11,"y":-0.23},{"x":1.18,"y":-0.22},{"x":0.42,"y":-0.11},{"x":0.47,"y":-0.11},{"x":0.53,"y":-0.1},{"x":0.59,"y":-0.11},{"x":0.65,"y":-0.1},{"x":0.71,"y":-0.11},{"x":0.78,"y":-0.1},{"x":0.84,"y":-0.11},{"x":0.9,"y":-0.1},{"x":0.97,"y":-0.11},{"x":1.05,"y":-0.1},{"x":1.13,"y":-0.11},{"x":0.47,"y":0.02},{"x":0.54,"y":0.02},{"x":0.6,"y":0.01},{"x":0.66,"y":0.02},{"x":0.72,"y":0.01},{"x":0.79,"y":0.02},{"x":0.85,"y":0.01},{"x":0.91,"y":0.02},{"x":0.98,"y":0.01},{"x":1.05,"y":0.02},{"x":1.12,"y":0.01},{"x":0.53,"y":0.13},{"x":0.59,"y":0.13},{"x":0.65,"y":0.12},{"x":0.71,"y":0.13},{"x":0.78,"y":0.12},{"x":0.84,"y":0.13},{"x":0.9,"y":0.12},{"x":0.96,"y":0.13},{"x":1.03,"y":0.12},{"x":1.1,"y":0.13},{"x":0.6,"y":0.24},{"x":0.66,"y":0.24},{"x":0.72,"y":0.23},{"x":0.79,"y":0.24},{"x":0.86,"y":0.23},{"x":0.92,"y":0.24},{"x":0.98,"y":0.23},{"x":1.04,"y":0.24},{"x":1.11,"y":0.23},{"x":0.68,"y":0.35},{"x":0.76,"y":0.36},{"x":0.82,"y":0.36},{"x":0.89,"y":0.37},{"x":0.95,"y":0.36},{"x":1.01,"y":0.37},{"x":1.08,"y":0.36}],
"bv":[{"x":-0.081,"y":-1.945},{"x":-0.53,"y":-1.567},{"x":-0.629,"y":-1.348},{"x":-0.215,"y":-1.528},{"x":-0.119,"y":-1.537},{"x":0.002,"y":-1.607},{"x":-0.231,"y":-1.37},{"x":-0.191,"y":-1.345},{"x":-0.137,"y":-1.4},{"x":-0.114,"y":-1.318},{"x":-0.254,"y":-1.236},{"x":-0.312,"y":-1.138},{"x":-0.191,"y":-1.126},{"x":-0.155,"y":-1.144},{"x":-0.038,"y":-0.946},{"x":0.052,"y":-0.907},{"x":-0.07,"y":-1.44},{"x":-0.05,"y":-1.47},{"x":-0.02,"y":-1.52},{"x":0.01,"y":-1.55},{"x":0.03,"y":-1.48},{"x":0.08,"y":-1.47},{"x":-0.08,"y":-1.38},{"x":-0.06,"y":-1.35},{"x":-0.07,"y":-1.31},{"x":-0.04,"y":-1.4},{"x":-0.02,"y":-1.36},{"x":-0.03,"y":-1.32},{"x":0,"y":-1.42},{"x":0.02,"y":-1.37},{"x":0.01,"y":-1.33},{"x":0.04,"y":-1.3},{"x":0.06,"y":-1.36},{"x":0.08,"y":-1.32},{"x":0.09,"y":-1.28},{"x":0.05,"y":-1.25},{"x":0.02,"y":-1.27},{"x":-0.02,"y":-1.24},{"x":-0.03,"y":-1.19},{"x":-0.02,"y":-1.16},{"x":0,"y":-1.21},{"x":0.01,"y":-1.17},{"x":0.03,"y":-1.14},{"x":0.05,"y":-1.2},{"x":0.07,"y":-1.16},{"x":0.09,"y":-1.22},{"x":0.1,"y":-1.26}],
"bm":[{"x":-0.286,"y":-0.98},{"x":0.011,"y":-1.945},{"x":-0.25,"y":-1.2},{"x":-0.22,"y":-1.4},{"x":-0.16,"y":-1.12},{"x":-0.05,"y":-1.73},{"x":-0.1,"y":-1.62},{"x":0.05,"y":-1.65},{"x":0,"y":-1.6},{"x":-0.17,"y":-1.55},{"x":-0.2,"y":-1.53},{"x":-0.3,"y":-1.25},{"x":-0.27,"y":-1.35},{"x":-0.12,"y":-1.5},{"x":0.05,"y":-0.85},{"x":0.06,"y":-0.75},{"x":0.09,"y":-0.9},{"x":-0.02,"y":-0.95},{"x":-0.1,"y":-1.5},{"x":-0.07,"y":-1.52},{"x":-0.04,"y":-1.49},{"x":-0.01,"y":-1.5},{"x":0.02,"y":-1.52},{"x":0.05,"y":-1.49},{"x":0.08,"y":-1.51},{"x":-0.1,"y":-1.44},{"x":-0.03,"y":-1.45},{"x":0.01,"y":-1.46},{"x":0.05,"y":-1.44},{"x":0.09,"y":-1.42},{"x":-0.11,"y":-1.36},{"x":-0.09,"y":-1.31},{"x":-0.05,"y":-1.42},{"x":0.03,"y":-1.41},{"x":0.07,"y":-1.4},{"x":-0.1,"y":-1.27},{"x":-0.06,"y":-1.27},{"x":-0.03,"y":-1.28},{"x":0,"y":-1.29},{"x":0.03,"y":-1.32},{"x":0.07,"y":-1.28},{"x":-0.09,"y":-1.22},{"x":-0.05,"y":-1.23},{"x":-0.01,"y":-1.26},{"x":0.02,"y":-1.23},{"x":0.06,"y":-1.22},{"x":-0.08,"y":-1.17},{"x":-0.05,"y":-1.15},{"x":0,"y":-1.13},{"x":0.04,"y":-1.17},{"x":0.08,"y":-1.13},{"x":-0.12,"y":-1.25},{"x":-0.14,"y":-1.3},{"x":-0.16,"y":-1.38},{"x":-0.14,"y":-1.46},{"x":-0.18,"y":-1.28},{"x":-0.2,"y":-1.2},{"x":-0.13,"y":-1.18},{"x":0.03,"y":-1.08},{"x":0.08,"y":-1.03}],
"gv":[{"x":1.036,"y":0.652},{"x":0.977,"y":0.743},{"x":1.229,"y":0.707},{"x":1.483,"y":0.661},{"x":1.834,"y":0.603},{"x":1.366,"y":0.98},{"x":1.351,"y":1.002}],
"gm":[{"x":0.955,"y":0.676},{"x":0.982,"y":0.749},{"x":0.937,"y":0.798},{"x":1.015,"y":0.639},{"x":1.045,"y":0.655},{"x":1.114,"y":0.762},{"x":1.112,"y":0.859},{"x":1.04,"y":0.95},{"x":1.207,"y":0.621},{"x":1.23,"y":0.707},{"x":1.258,"y":0.743},{"x":1.263,"y":0.822},{"x":1.297,"y":0.834},{"x":1.333,"y":0.822},{"x":1.321,"y":0.92},{"x":1.288,"y":0.6},{"x":1.314,"y":0.639},{"x":1.351,"y":0.67},{"x":1.388,"y":0.667},{"x":1.486,"y":0.661},{"x":1.523,"y":0.621},{"x":1.838,"y":0.603},{"x":1.753,"y":0.749},{"x":1.843,"y":0.783},{"x":1.832,"y":0.813},{"x":1.369,"y":0.98},{"x":1.351,"y":1.005},{"x":1.369,"y":1.017},{"x":1.173,"y":1.084},{"x":1.187,"y":1.218},{"x":1.139,"y":1.291},{"x":1.609,"y":1.081},{"x":1.677,"y":1.099},{"x":1.84,"y":1.26},{"x":2.261,"y":1.118},{"x":2.207,"y":1.239},{"x":1.699,"y":1.595},{"x":0.91,"y":1.924}],
"yv":[{"x":0.843,"y":0.995}],
"ym":[{"x":0.366,"y":0.609},{"x":0.541,"y":0.609},{"x":0.578,"y":0.676},{"x":0.766,"y":0.767},{"x":0.793,"y":0.753},{"x":0.865,"y":0.646},{"x":0.865,"y":0.762},{"x":0.888,"y":0.816},{"x":0.51,"y":0.865},{"x":0.632,"y":0.895},{"x":0.843,"y":0.965},{"x":0.847,"y":0.99},{"x":0.85,"y":0.98},{"x":0.832,"y":1.529},{"x":0.306,"y":2.025}],
"lines":[{"x":0.1,"x2":0.1,"y":-2.6,"y2":2.19},{"x":0.1,"x2":2.49,"y":0.6,"y2":0.6},{"x":0.9,"x2":0.9,"y":0.6,"y2":2.19}],
"arrow":[{"x":1.892,"x2":2.27,"y":-1.902,"y2":-1.575}],
"head":[{"x":2.303,"y":-1.546}],
"tl":[{"t":"Star Cluster (791) 91.9%","c":"s","x":0.6,"y":-2.268},{"t":"Blue star/","c":"b","x":-0.67,"y":1.413},{"t":"cluster","c":"b","x":-0.67,"y":1.668},{"t":"(62) 7.2%","c":"b","x":-0.67,"y":1.924},{"t":"Yellow star","c":"o","x":0.119,"y":1.668},{"t":"(1) 0.1%","c":"o","x":0.162,"y":1.924},{"t":"0.8%","c":"g","x":2.0,"y":1.632},{"t":"Foreground star (7)","c":"g","x":0.951,"y":1.924}],
"tr":[{"t":"Star Cluster (2786) 93.2%","c":"s","x":0.605,"y":-2.268},{"t":"Blue star/","c":"b","x":-0.67,"y":1.413},{"t":"cluster","c":"b","x":-0.67,"y":1.668},{"t":"(148) 5.0%","c":"b","x":-0.67,"y":1.924},{"t":"Yellow star","c":"o","x":0.119,"y":1.668},{"t":"(15) 0.5%","c":"o","x":0.168,"y":1.924},{"t":"1.3%","c":"g","x":2.108,"y":1.632},{"t":"Foreground star (40)","c":"g","x":0.951,"y":1.924}]
},
"hconcat":[
{"width":601,"height":524,"title":"Visual Star Clusters",
"encoding":{"x":{"field":"x","type":"quantitative","scale":{"domain":[-0.757,2.49],"nice":false,"zero":false},"axis":null},"y":{"field":"y","type":"quantitative","scale":{"domain":[-2.6,2.19],"reverse":true,"nice":false,"zero":false},"axis":null}},
"resolve":{"axis":{"x":"independent","y":"independent"}},
"layer":[
{"data":{"name":"pv"},"mark":{"type":"point","shape":"circle","filled":false,"size":95,"strokeWidth":1.9,"color":"#440154","opacity":1},"encoding":{"x":{"field":"x","type":"quantitative","axis":{"orient":"bottom","title":"V−I","values":[-0.5,0,0.5,1,1.5,2],"format":".1f","tickSize":-10,"labelPadding":18,"labelFontSize":26,"titleFontSize":37,"titlePadding":1}},"y":{"field":"y","type":"quantitative","axis":{"orient":"left","title":"U−B","values":[-2,-1,0,1,2],"format":"d","tickSize":-10,"labelPadding":14,"labelFontSize":26,"titleFontSize":36,"titlePadding":8}}}},
{"data":{"name":"bv"},"mark":{"type":"point","shape":"circle","filled":false,"size":95,"strokeWidth":1.9,"color":"#31688e","opacity":1},"encoding":{"x":{"field":"x","type":"quantitative","axis":{"orient":"top","title":null,"values":[-0.5,0,0.5,1,1.5,2],"labels":false,"tickSize":-10}},"y":{"field":"y","type":"quantitative","axis":{"orient":"right","title":null,"values":[-2,-1,0,1,2],"labels":false,"tickSize":-10}}}},
{"data":{"name":"gv"},"mark":{"type":"point","shape":"circle","filled":false,"size":95,"strokeWidth":1.9,"color":"#35b779","opacity":1}},
{"data":{"name":"yv"},"mark":{"type":"point","shape":"circle","filled":false,"size":95,"strokeWidth":1.9,"color":"#fd9a44","opacity":1}},
{"data":{"name":"lines"},"mark":{"type":"rule","color":"#000","strokeWidth":2.6,"strokeDash":[2.4,3.6]},"encoding":{"x2":{"field":"x2"},"y2":{"field":"y2"}}},
{"data":{"name":"arrow"},"mark":{"type":"rule","color":"#000","strokeWidth":1.8},"encoding":{"x2":{"field":"x2"},"y2":{"field":"y2"}}},
{"data":{"name":"head"},"mark":{"type":"point","shape":"triangle-up","filled":true,"size":230,"color":"#000","opacity":1},"encoding":{"angle":{"value":117}}},
{"data":{"name":"tl"},"mark":{"type":"text","align":"left","baseline":"middle","fontSize":25.4},"encoding":{"text":{"field":"t"},"color":{"field":"c","scale":{"domain":["s","b","o","g"],"range":["#440154","#31688e","#fd9a44","#35b779"]},"legend":null}}}
]},
{"width":601,"height":524,"title":"ML Star Clusters",
"encoding":{"x":{"field":"x","type":"quantitative","scale":{"domain":[-0.757,2.49],"nice":false,"zero":false},"axis":null},"y":{"field":"y","type":"quantitative","scale":{"domain":[-2.6,2.19],"reverse":true,"nice":false,"zero":false},"axis":null}},
"resolve":{"axis":{"x":"independent","y":"independent"}},
"layer":[
{"data":{"name":"pv"},"mark":{"type":"point","shape":"circle","filled":false,"size":95,"strokeWidth":1.9,"color":"#440154","opacity":1},"encoding":{"x":{"field":"x","type":"quantitative","axis":{"orient":"bottom","title":"V−I","values":[-0.5,0,0.5,1,1.5,2],"format":".1f","tickSize":-10,"labelPadding":18,"labelFontSize":26,"titleFontSize":37,"titlePadding":1}},"y":{"field":"y","type":"quantitative","axis":{"orient":"left","title":null,"values":[-2,-1,0,1,2],"labels":false,"tickSize":-10}}}},
{"data":{"name":"pm"},"mark":{"type":"point","shape":"circle","filled":false,"size":95,"strokeWidth":1.9,"color":"#440154","opacity":1}},
{"data":{"name":"bv"},"mark":{"type":"point","shape":"circle","filled":false,"size":95,"strokeWidth":1.9,"color":"#31688e","opacity":1},"encoding":{"x":{"field":"x","type":"quantitative","axis":{"orient":"top","title":null,"values":[-0.5,0,0.5,1,1.5,2],"labels":false,"tickSize":-10}},"y":{"field":"y","type":"quantitative","axis":{"orient":"right","title":null,"values":[-2,-1,0,1,2],"labels":false,"tickSize":-10}}}},
{"data":{"name":"bm"},"mark":{"type":"point","shape":"circle","filled":false,"size":95,"strokeWidth":1.9,"color":"#31688e","opacity":1}},
{"data":{"name":"gm"},"mark":{"type":"point","shape":"circle","filled":false,"size":95,"strokeWidth":1.9,"color":"#35b779","opacity":1}},
{"data":{"name":"ym"},"mark":{"type":"point","shape":"circle","filled":false,"size":95,"strokeWidth":1.9,"color":"#fd9a44","opacity":1}},
{"data":{"name":"lines"},"mark":{"type":"rule","color":"#000","strokeWidth":2.6,"strokeDash":[2.4,3.6]},"encoding":{"x2":{"field":"x2"},"y2":{"field":"y2"}}},
{"data":{"name":"tr"},"mark":{"type":"text","align":"left","baseline":"middle","fontSize":25.4},"encoding":{"text":{"field":"t"},"color":{"field":"c","scale":{"domain":["s","b","o","g"],"range":["#440154","#31688e","#fd9a44","#35b779"]},"legend":null}}}
]}
]}
